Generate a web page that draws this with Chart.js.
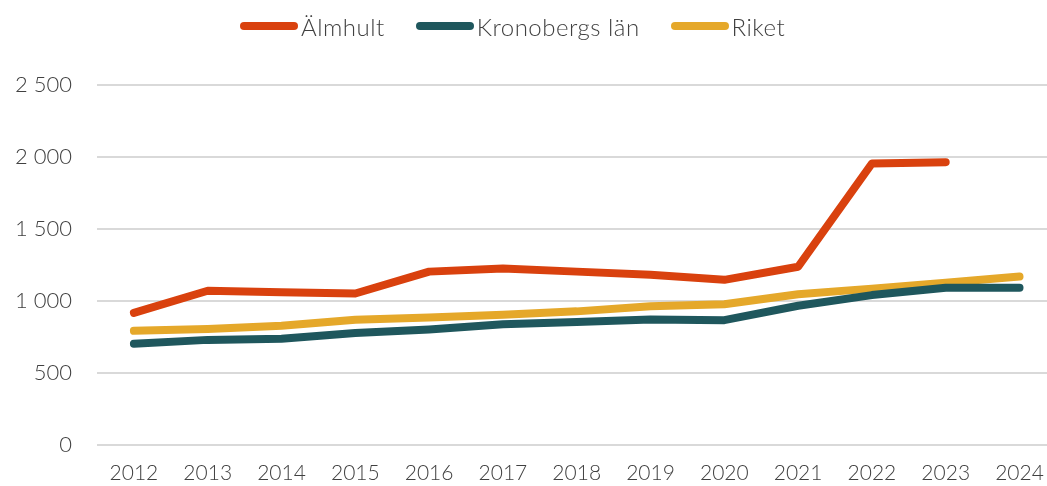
<!DOCTYPE html>
<html>
<head>
<meta charset="utf-8">
<script src="https://cdn.jsdelivr.net/npm/chart.js@4.4.1/dist/chart.umd.min.js"></script>
<style>
  html, body { margin: 0; padding: 0; background: #ffffff; overflow: hidden; width: 1047px; height: 486px; }
  #wrap { position: relative; width: 1060px; height: 486px; }
  #legend { position: absolute; top: 11px; left: 240px; display: flex; align-items: center; height: 30px;
            font-family: Lato, 'Open Sans', sans-serif; font-weight: 300; font-size: 24px; letter-spacing: 0.5px;
            color: #404040; z-index: 2; }
  #legend .item { display: flex; align-items: center; margin-right: 31px; white-space: nowrap; }
  #legend .sw { width: 58px; height: 8px; border-radius: 4px; margin-right: 3px; }
</style>
</head>
<body>
<div id="wrap">
  <div id="legend"></div>
  <canvas id="c"></canvas>
</div>
<script>
const years = ["2012","2013","2014","2015","2016","2017","2018","2019","2020","2021","2022","2023","2024"];
const almhult = [918, 1071, 1060, 1052, 1204, 1226, 1204, 1183, 1147, 1238, 1955, 1964, null];
const kronoberg = [703, 730, 738, 777, 802, 838, 855, 872, 867, 967, 1041, 1092, 1092];
const riket = [793, 806, 828, 870, 886, 905, 928, 964, 977, 1047, 1086, 1126, 1170];
const yTicks = [0, 500, 1000, 1500, 2000, 2500];
const seriesNames = ['Älmhult', 'Kronobergs län', 'Riket'];
const seriesColors = ['#D9410E', '#1F575D', '#E5A82A'];

const FONT = "Lato, 'Open Sans', sans-serif";

const chart = new Chart(document.getElementById('c'), {
  type: 'line',
  data: {
    labels: years,
    datasets: [almhult, kronoberg, riket].map((vals, i) => ({
      label: seriesNames[i], data: vals,
      borderColor: seriesColors[i], backgroundColor: seriesColors[i],
      borderWidth: 8, pointRadius: 0, tension: 0, fill: false,
      borderCapStyle: 'round', borderJoinStyle: 'round', spanGaps: false
    }))
  },
  options: {
    responsive: true,
    maintainAspectRatio: false,
    animation: false,
    layout: { padding: { top: 85, left: 0, right: 3, bottom: 0 } },
    plugins: {
      legend: { display: false },
      tooltip: { enabled: false }
    },
    scales: {
      x: {
        type: 'category',
        offset: true,
        afterFit(axis) { axis.height = 41; },
        grid: { display: false, drawTicks: false },
        border: { display: false },
        ticks: { color: '#404040', padding: 16, maxRotation: 0, autoSkip: false,
                 font: { family: FONT, size: 21, weight: '300' } }
      },
      y: {
        min: 0, max: 2500,
        afterFit(axis) { axis.width = 97; },
        afterBuildTicks(axis) { axis.ticks = yTicks.map(v => ({ value: v })); },
        grid: { color: '#D9D9D9', lineWidth: 2, drawTicks: false },
        border: { display: false },
        ticks: {
          color: '#404040', padding: 25,
          font: { family: FONT, size: 22, weight: '300' },
          callback: v => String(v).replace(/\B(?=(\d{3})+(?!\d))/g, ' ')
        }
      }
    }
  }
});

const legendEl = document.getElementById('legend');
chart.data.datasets.forEach(ds => {
  const item = document.createElement('div');
  item.className = 'item';
  const sw = document.createElement('span');
  sw.className = 'sw';
  sw.style.background = ds.borderColor;
  const tx = document.createElement('span');
  tx.textContent = ds.label;
  item.appendChild(sw);
  item.appendChild(tx);
  legendEl.appendChild(item);
});
</script>
</body>
</html>
